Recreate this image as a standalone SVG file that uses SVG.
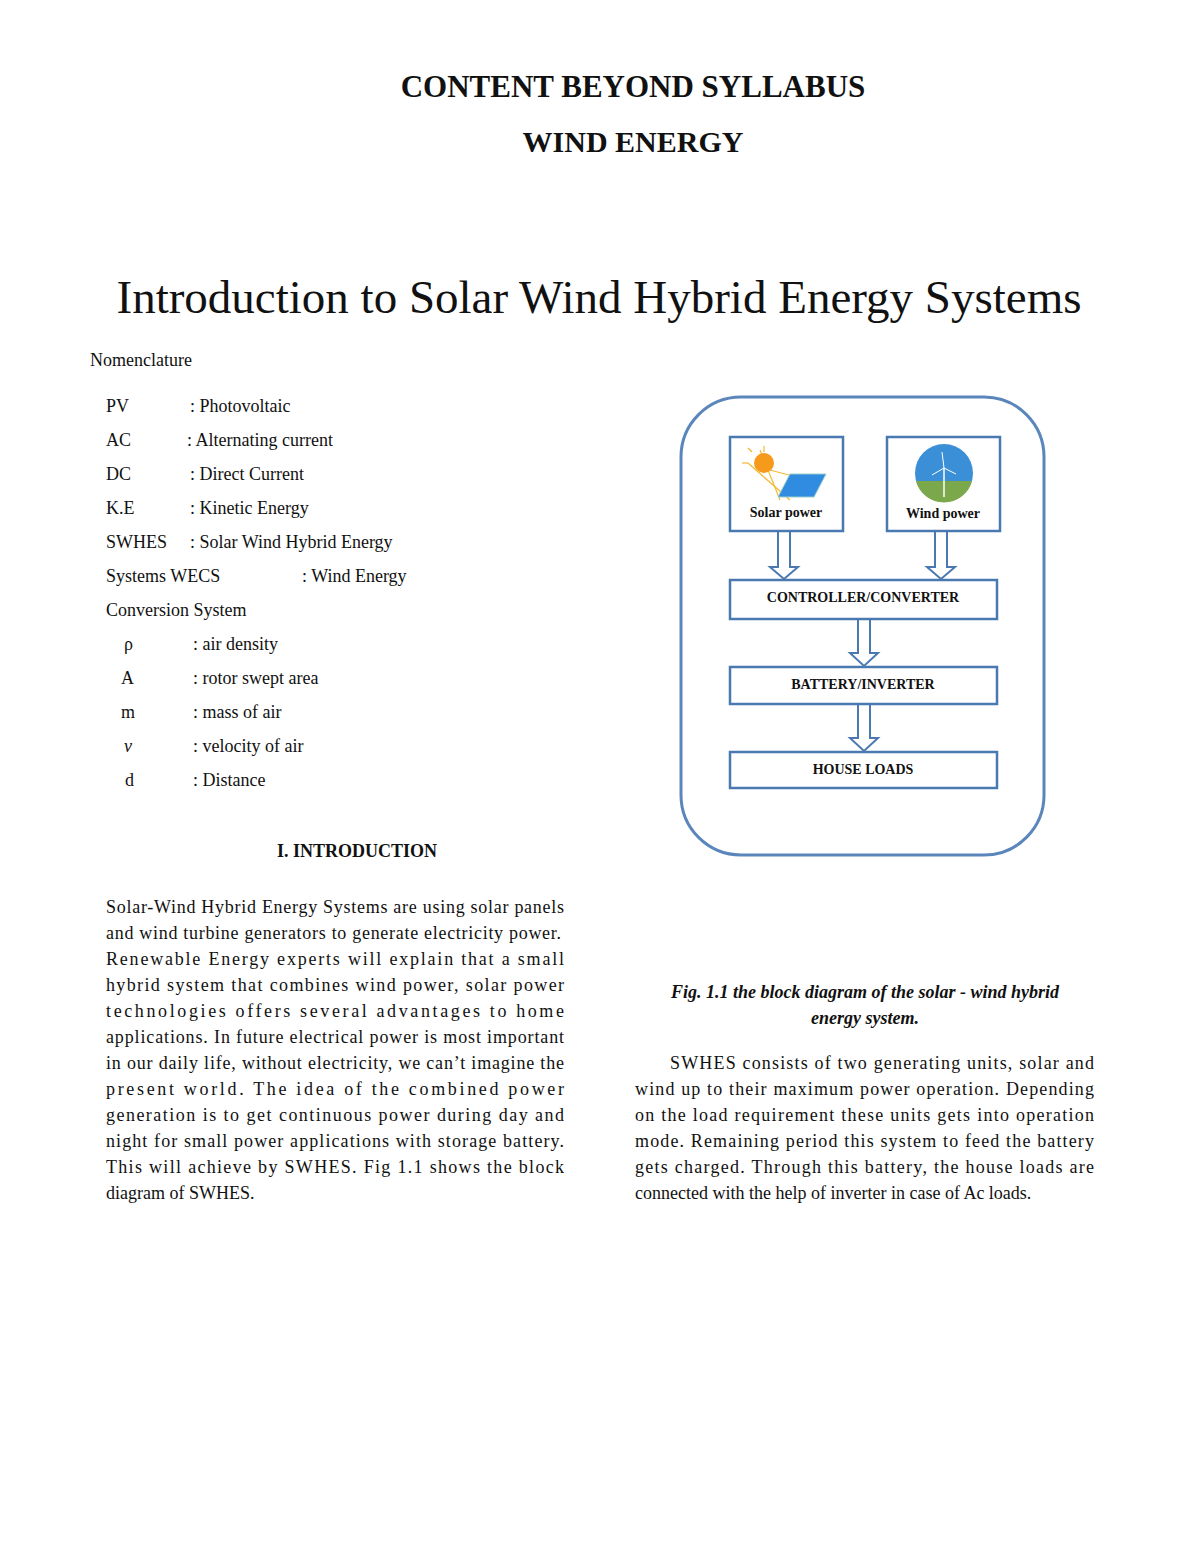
<svg xmlns="http://www.w3.org/2000/svg" width="1200" height="1553" viewBox="0 0 1200 1553">
<style>
text{font-family:"Liberation Serif","Times New Roman",serif;fill:#111}
.b{font-size:18px}
.n{font-size:18px}
.box{fill:#fff;stroke:#4a78b0;stroke-width:2.5}
.lbl{font-size:14px;font-weight:bold;text-anchor:middle}
.arr{fill:#fff;stroke:#4a78b0;stroke-width:2}
</style>
<rect width="1200" height="1553" fill="#fff"/>
<text x="633" y="97" font-size="31" font-weight="bold" text-anchor="middle">CONTENT BEYOND SYLLABUS</text>
<text x="633" y="152" font-size="30" font-weight="bold" text-anchor="middle">WIND ENERGY</text>
<text x="599" y="313" font-size="47" text-anchor="middle">Introduction to Solar Wind Hybrid Energy Systems</text>
<text class="n" x="90" y="366">Nomenclature</text>
<g class="n">
<text x="106" y="412">PV</text><text x="190" y="412">:  Photovoltaic</text>
<text x="106" y="446">AC</text><text x="187" y="446">:  Alternating current</text>
<text x="106" y="480">DC</text><text x="190" y="480">: Direct Current</text>
<text x="106" y="514">K.E</text><text x="190" y="514">: Kinetic Energy</text>
<text x="106" y="548">SWHES</text><text x="190" y="548">: Solar Wind Hybrid Energy</text>
<text x="106" y="582">Systems WECS</text><text x="302" y="582">: Wind Energy</text>
<text x="106" y="616">Conversion System</text>
<text x="124" y="650">ρ</text><text x="193" y="650">: air density</text>
<text x="121" y="684">A</text><text x="193" y="684">:  rotor swept area</text>
<text x="121" y="718">m</text><text x="193" y="718">: mass of air</text>
<text x="124" y="752" font-style="italic">ν</text><text x="193" y="752">: velocity of air</text>
<text x="125" y="786">d</text><text x="193" y="786">: Distance</text>
</g>
<text x="357" y="857" font-size="18" font-weight="bold" text-anchor="middle">I. INTRODUCTION</text>
<g class="b" lengthAdjust="spacing">
<text x="106" y="913" textLength="458">Solar-Wind Hybrid Energy Systems are using solar panels</text>
<text x="106" y="939" textLength="455">and wind turbine generators to generate electricity power.</text>
<text x="106" y="965" textLength="458">Renewable Energy experts will explain that a small</text>
<text x="106" y="991" textLength="458">hybrid system that combines wind power, solar power</text>
<text x="106" y="1017" textLength="458">technologies offers several advantages to home</text>
<text x="106" y="1043" textLength="458">applications. In future electrical power is most important</text>
<text x="106" y="1069" textLength="458">in our daily life, without electricity, we can’t imagine the</text>
<text x="106" y="1095" textLength="458">present world. The idea of the combined power</text>
<text x="106" y="1121" textLength="458">generation is to get continuous power during day and</text>
<text x="106" y="1147" textLength="458">night for small power applications with storage battery.</text>
<text x="106" y="1173" textLength="458">This will achieve by SWHES. Fig 1.1 shows the block</text>
<text x="106" y="1199">diagram of SWHES.</text>
</g>
<text x="865" y="998" font-size="18" font-weight="bold" font-style="italic" text-anchor="middle">Fig. 1.1 the block diagram of the solar - wind hybrid</text>
<text x="865" y="1024" font-size="18" font-weight="bold" font-style="italic" text-anchor="middle">energy system.</text>
<g class="b">
<text x="670" y="1069" textLength="424">SWHES consists of two generating units, solar and</text>
<text x="635" y="1095" textLength="459">wind up to their maximum power operation. Depending</text>
<text x="635" y="1121" textLength="459">on the load requirement these units gets into operation</text>
<text x="635" y="1147" textLength="459">mode. Remaining period this system to feed the battery</text>
<text x="635" y="1173" textLength="459">gets charged. Through this battery, the house loads are</text>
<text x="635" y="1199">connected with the help of inverter in case of Ac loads.</text>
</g>
<rect x="681" y="397" width="363" height="458" rx="60" fill="none" stroke="#5a86bb" stroke-width="3"/>
<g id="connectors">
<path class="arr" d="M778 531V567H770L784 579L798 567H790V531Z"/>
<path class="arr" d="M935 531V567H927L941 579L955 567H947V531Z"/>
<path class="arr" d="M858 619V653H850L864 666L878 653H870V619Z"/>
<path class="arr" d="M858 704V738H850L864 751L878 738H870V704Z"/>
</g>
<g id="solar">
<rect class="box" x="730" y="437" width="113" height="94"/>
<g stroke="#f5b830" stroke-width="1.2">
<line x1="748" y1="463" x2="790" y2="500"/><line x1="760" y1="450" x2="780" y2="500"/><line x1="770" y1="470" x2="800" y2="478"/>
<line x1="748" y1="463" x2="742" y2="463"/><line x1="764" y1="446" x2="764" y2="452"/><line x1="752" y1="452" x2="748" y2="448"/>
</g>
<circle cx="764" cy="463" r="10" fill="#f59a1a"/>
<polygon points="790,474 826,474 814,497 778,497" fill="#2f8ce0" stroke="#9cc" stroke-width="1"/>
<text class="lbl" x="786" y="517" font-size="12">Solar power</text>
</g>
<g id="wind">
<rect class="box" x="887" y="437" width="113" height="94"/>
<circle cx="944" cy="473" r="29" fill="#3a8fd6"/>
<path d="M916 481 A29 29 0 0 0 972 481Z" fill="#7aa84a"/>
<line x1="944" y1="468" x2="944" y2="497" stroke="#fff" stroke-width="1.5"/>
<path d="M944 468l-2-16M944 468l12 6M944 468l-12 7" stroke="#fff" stroke-width="1"/>
<text class="lbl" x="943" y="518" font-size="12">Wind power</text>
</g>
<g id="controller"><rect class="box" x="730" y="580" width="267" height="39"/><text class="lbl" x="863" y="602">CONTROLLER/CONVERTER</text></g>
<g id="battery"><rect class="box" x="730" y="667" width="267" height="37"/><text class="lbl" x="863" y="689">BATTERY/INVERTER</text></g>
<g id="house"><rect class="box" x="730" y="752" width="267" height="36"/><text class="lbl" x="863" y="774">HOUSE LOADS</text></g>
</svg>
